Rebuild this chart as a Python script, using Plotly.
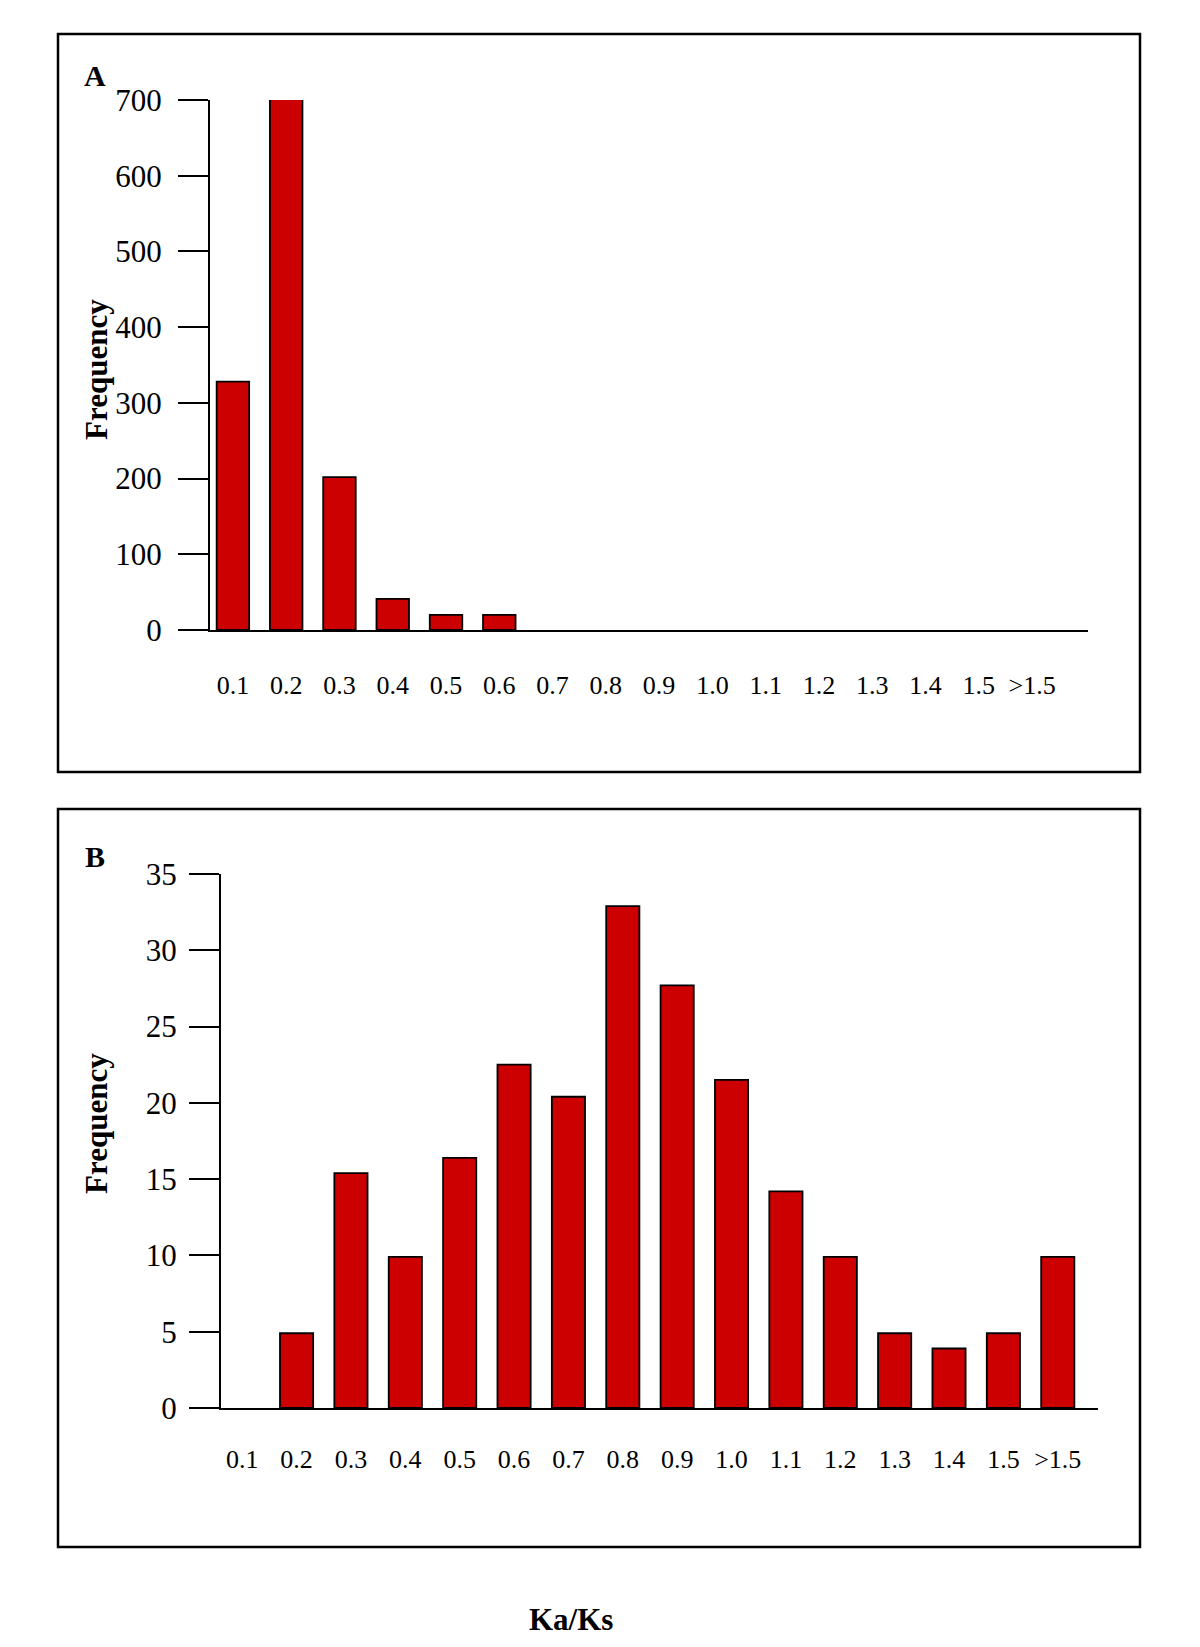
import plotly.graph_objects as go

categories = ["0.1", "0.2", "0.3", "0.4", "0.5", "0.6", "0.7", "0.8",
              "0.9", "1.0", "1.1", "1.2", "1.3", "1.4", "1.5", ">1.5"]
freq_a = [328, 702, 202, 41, 20, 20, 0, 0, 0, 0, 0, 0, 0, 0, 0, 0]
freq_b = [0, 4.9, 15.4, 9.9, 16.4, 22.5, 20.4, 32.9, 27.7, 21.5, 14.2, 9.9, 4.9, 3.9, 4.9, 9.9]
yticks_a = [0, 100, 200, 300, 400, 500, 600, 700]
yticks_b = [0, 5, 10, 15, 20, 25, 30, 35]

W, H = 1200, 1647
OFF = 8  # page body margin
FONT = "Liberation Serif"
BAR = "#CC0000"

def px(x):
    return (x - OFF) / W

def py(y):
    return 1 - (y - OFF) / H

def outline(vals):
    return [0 if v == 0 else 1.8 for v in vals]

fig = go.Figure()
fig.add_trace(go.Bar(x=categories, y=freq_a, xaxis="x", yaxis="y",
                     marker=dict(color=BAR, line=dict(color="black", width=outline(freq_a))),
                     cliponaxis=False, showlegend=False))
fig.add_trace(go.Bar(x=categories, y=freq_b, xaxis="x2", yaxis="y2",
                     marker=dict(color=BAR, line=dict(color="black", width=outline(freq_b))),
                     cliponaxis=False, showlegend=False))

xcommon = dict(type="category", showgrid=False, zeroline=False, showline=True,
               linecolor="black", linewidth=2, ticks="",
               tickfont=dict(family=FONT, size=26, color="black"), fixedrange=True,
               automargin=False)
ycommon = dict(showgrid=False, zeroline=False, showline=True, linecolor="black",
               linewidth=2, ticks="outside", ticklen=30, tickwidth=2, tickcolor="black",
               automargin=False,
               tickfont=dict(family=FONT, size=31, color="black"), fixedrange=True)

fig.update_layout(
    width=W, height=H,
    margin=dict(l=0, r=0, t=0, b=0, pad=0, autoexpand=False),
    paper_bgcolor="white", plot_bgcolor="white",
    showlegend=False,
    bargap=0.39,
    xaxis=dict(**xcommon, domain=[px(210), px(1088)], range=[-0.43, 16.05], anchor="y",
               ticklabelstandoff=31),
    yaxis=dict(**ycommon, domain=[py(630), py(100)], range=[0, 700],
               tickvals=yticks_a, anchor="x", ticklabelstandoff=10),
    xaxis2=dict(**xcommon, domain=[px(221), px(1098)], range=[-0.39, 15.74], anchor="y2",
                ticklabelstandoff=27),
    yaxis2=dict(**ycommon, domain=[py(1408), py(874)], range=[0, 35],
                tickvals=yticks_b, anchor="x2", ticklabelstandoff=6),
)

# panel boxes
for (x0, y0, x1, y1) in [(58, 34, 1140, 772), (58, 809, 1140, 1547)]:
    fig.add_shape(type="rect", xref="paper", yref="paper",
                  x0=px(x0), y0=py(y1), x1=px(x1), y1=py(y0),
                  line=dict(color="black", width=2.5), fillcolor="rgba(0,0,0,0)")

ann_font = dict(family=FONT, color="black")
common_ann = dict(xref="paper", yref="paper", showarrow=False,
                  xanchor="center", yanchor="middle")
fig.add_annotation(text="<b>A</b>", x=px(95), y=py(76), font=dict(**ann_font, size=30), **common_ann)
fig.add_annotation(text="<b>B</b>", x=px(95), y=py(856), font=dict(**ann_font, size=30), **common_ann)
fig.add_annotation(text="<b>Frequency</b>", x=px(96), y=py(370), textangle=-90,
                   font=dict(**ann_font, size=31), **common_ann)
fig.add_annotation(text="<b>Frequency</b>", x=px(96), y=py(1124), textangle=-90,
                   font=dict(**ann_font, size=31), **common_ann)
fig.add_annotation(text="<b>Ka/Ks</b>", x=px(571), y=py(1619),
                   font=dict(**ann_font, size=31), **common_ann)

fig.write_html("out.html")
